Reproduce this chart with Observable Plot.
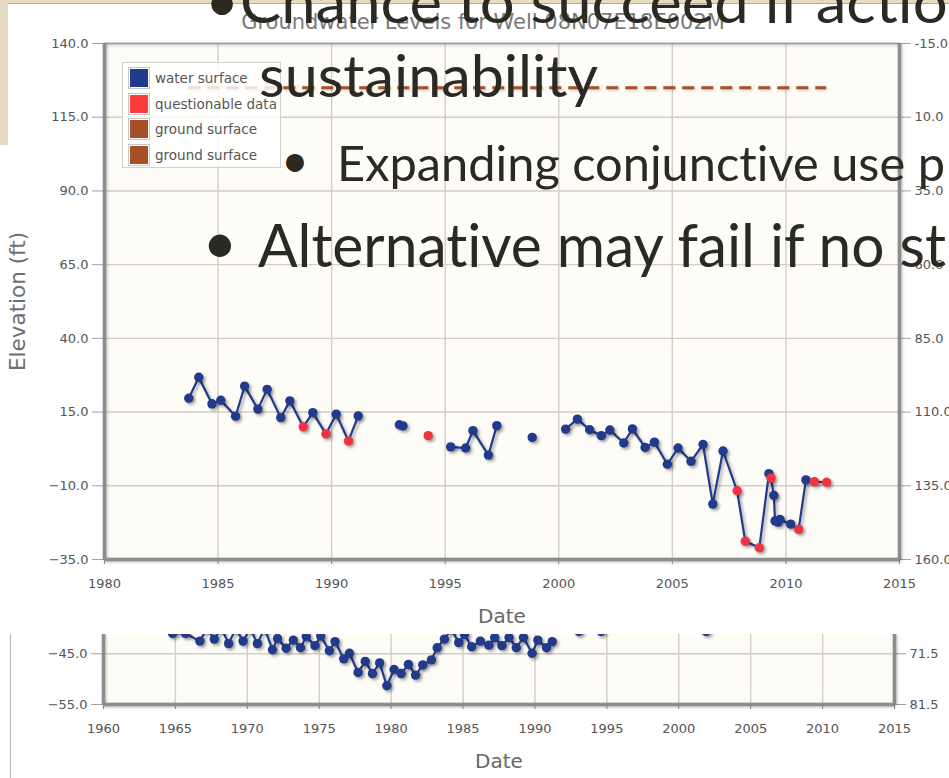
<!DOCTYPE html>
<html>
<head>
<meta charset="utf-8">
<script src="https://cdn.jsdelivr.net/npm/d3@7"></script>
<script src="https://cdn.jsdelivr.net/npm/@observablehq/plot@0.6"></script>
<style>
  html, body { margin: 0; padding: 0; }
  body { width: 949px; height: 778px; position: relative; overflow: hidden; background: #e7dcc2; font-family: "DejaVu Sans", sans-serif; }
  #sheetBottom { position: absolute; left: 0; top: 145px; width: 949px; height: 633px; background: #fff; }
  #sheetEdge { position: absolute; left: 10px; top: 633px; width: 1px; height: 145px; background: #b5b5b5; }
  #bottomChart { position: absolute; left: 0; top: 613px; }
  #sheetTop { position: absolute; left: 8px; top: 3px; width: 941px; height: 630px; background: #fff; border-top: 1px solid #a9a9a9; }
  #topChart { position: absolute; left: 0; top: 0; }
  #legend { position: absolute; left: 122px; top: 62px; width: 157px; height: 104px; border: 1px solid #cfcfcf; background: rgba(255,255,255,0.82); }
  #legend .row { position: absolute; left: 5px; height: 22px; display: flex; align-items: center; }
  #legend .sw { width: 18px; height: 18px; border: 1px solid #c8c8c8; padding: 1px; margin-right: 5px; }
  #legend .sw div { width: 100%; height: 100%; }
  #legend span { font-size: 13.5px; color: #555; white-space: nowrap; }
  #slide { position: absolute; left: 0; top: 0; }
  #slide text { font-variant-ligatures: none; font-feature-settings: "liga" 0, "clig" 0; }
  svg { overflow: visible; }
</style>
</head>
<body>
<div id="sheetBottom"></div>
<div id="sheetEdge"></div>
<div id="bottomChart"></div>
<div id="sheetTop"></div>
<div id="topChart"></div>
<div id="legend"></div>
<div id="slide"></div>
<script>
// ---------------- upper chart: Well 08N07E18E002M ----------------
const wellTitle = "Groundwater Levels for Well 08N07E18E002M";
const yLabel = "Elevation (ft)";
const xLabel = "Date";
const xTicks = [1980, 1985, 1990, 1995, 2000, 2005, 2010, 2015];
const yTicks = [-35, -10, 15, 40, 65, 90, 115, 140];
const groundSurface = 125; // elevation of ground surface (depth axis = groundSurface - elevation)

const dates = [1983.71, 1984.15, 1984.73, 1985.12, 1985.77, 1986.17, 1986.75, 1987.16, 1987.76, 1988.16,
  1988.75, 1989.17, 1989.75, 1990.2, 1990.74, 1991.17,
  1992.98, 1993.14,
  1994.25,
  1995.24, 1995.9, 1996.22, 1996.9, 1997.27,
  1998.83,
  2000.3, 2000.82, 2001.36, 2001.87, 2002.25, 2002.86, 2003.24, 2003.8, 2004.21, 2004.78,
  2005.25, 2005.82, 2006.35, 2006.78, 2007.23, 2007.85, 2008.21, 2008.83, 2009.25, 2009.34,
  2009.47, 2009.52, 2009.66, 2009.74, 2010.21, 2010.56, 2010.88, 2011.25, 2011.79];
const waterElev = [19.7, 26.8, 17.8, 19.0, 13.6, 23.8, 16.0, 22.7, 13.1, 18.8,
  10.0, 14.8, 7.6, 14.3, 5.2, 13.7,
  10.7, 10.3,
  7.0,
  3.2, 2.8, 8.7, 0.4, 10.4,
  6.4,
  9.2, 12.6, 9.0, 7.0, 8.9, 4.5, 9.3, 3.0, 4.8, -2.7,
  2.8, -1.7, 4.0, -16.2, 1.8, -11.7, -28.8, -31.0, -5.9, -7.4,
  -13.3, -21.9, -22.3, -21.4, -23.0, -24.8, -8.0, -8.6, -8.8];
// W = water surface, Q = questionable data
const quality = ["W","W","W","W","W","W","W","W","W","W",
  "Q","W","Q","W","Q","W",
  "W","W",
  "Q",
  "W","W","W","W","W",
  "W",
  "W","W","W","W","W","W","W","W","W","W",
  "W","W","W","W","W","Q","Q","Q","W","Q",
  "W","W","W","W","W","Q","W","Q","Q"];
const segment = [0,0,0,0,0,0,0,0,0,0, 0,0,0,0,0,0, 1,1, 2, 3,3,3,3,3, 4,
  5,5,5,5,5,5,5,5,5,5, 5,5,5,5,5,5,5,5,5,5, 5,5,5,5,5,5,5,5,5];

// ---------------- lower chart (partly hidden) ----------------
const xTicks2 = [1960, 1965, 1970, 1975, 1980, 1985, 1990, 1995, 2000, 2005, 2010, 2015];
const yTicks2 = [-55, -45];
const groundSurface2 = 26.5;
const dates2 = [1964.8, 1965.7, 1966.7, 1967.2, 1967.7, 1968.2, 1968.7, 1969.2, 1969.7, 1970.2, 1970.7, 1971.2, 1971.75,
  1972.1, 1972.7, 1973.2, 1973.7, 1974.1, 1974.7, 1975.1, 1975.7, 1976.1, 1976.7, 1977.1, 1977.7,
  1978.2, 1978.7, 1979.2, 1979.7, 1980.2, 1980.7, 1981.2, 1981.7, 1982.2, 1982.8, 1983.2, 1983.7,
  1984.2, 1984.7, 1985.1, 1985.6, 1986.2, 1986.8, 1987.2, 1987.7, 1988.2, 1988.7, 1989.2, 1989.8,
  1990.2, 1990.8, 1991.2, 1993.05, 1994.6, 2001.9];
const elev2 = [-41.0, -41.0, -42.5, -40.0, -42.1, -40.0, -43.0, -40.0, -42.5, -40.0, -43.0, -40.0, -44.2,
  -42.0, -43.9, -42.3, -43.8, -41.6, -43.4, -41.5, -44.4, -42.6, -46.0, -44.9, -48.7,
  -46.5, -48.9, -46.8, -51.3, -48.1, -48.9, -47.1, -49.2, -47.2, -46.2, -43.8, -42.1,
  -40.2, -42.8, -41.2, -43.6, -42.5, -43.3, -41.8, -43.4, -41.8, -43.8, -41.8, -44.9,
  -42.3, -43.8, -42.6, -40.6, -40.6, -40.6];
const seg2 = dates2.map((d, i) => i < 52 ? 0 : i - 51);

// ---------------- legend & slide text ----------------
const legendLabels = ["water surface", "questionable data", "ground surface", "ground surface"];
const slideLines = ["Chance to succeed if action", "sustainability", "Expanding conjunctive use p", "Alternative may fail if no st"];

// ---------------- styles ----------------
const NAVY = "#213a8c", RED = "#ef3340", SIENNA = "#a64f28", PLOTBG = "#fdfcf6", GRID = "#d2cfc7", AXIS = "#8d8d8d";
const legendColors = [NAVY, "#ff3b3b", SIENNA, SIENNA];

const rows = dates.map((d, i) => ({date: d, elev: waterElev[i], q: quality[i], seg: segment[i]}));
const rows2 = dates2.map((d, i) => ({date: d, elev: elev2[i], seg: seg2[i]}));

const baseStyle = {background: "transparent", fontFamily: "DejaVu Sans, sans-serif", fontSize: "13px", overflow: "visible"};
const TICKFONT = 13;

const topPlot = Plot.plot({
  width: 949, height: 633,
  marginLeft: 104, marginRight: 50, marginTop: 43, marginBottom: 74,
  style: baseStyle,
  x: {domain: [1980, 2015]},
  y: {domain: [-35, 140]},
  marks: [
    Plot.frame({fill: PLOTBG, stroke: null}),
    Plot.gridX({ticks: xTicks, stroke: GRID, strokeOpacity: 1, strokeWidth: 1.4}),
    Plot.gridY({ticks: yTicks, stroke: GRID, strokeOpacity: 1, strokeWidth: 1.4}),
    Plot.axisX({ticks: xTicks, tickFormat: "d", tickSize: 5, tickPadding: 14, stroke: AXIS, fill: "#555", fontSize: TICKFONT, label: null}),
    Plot.axisY({anchor: "left", ticks: yTicks, tickFormat: ".1f", tickSize: 12, tickPadding: 4, stroke: "#a0a0a0", fill: "#555", fontSize: TICKFONT, label: null}),
    Plot.axisY({anchor: "right", ticks: yTicks, tickFormat: d => (groundSurface - d).toFixed(1), tickSize: 11, tickPadding: 4, stroke: "#a0a0a0", fill: "#555", fontSize: TICKFONT, label: null}),
    Plot.ruleY([140], {stroke: "#9a9a9a", strokeWidth: 1.5}),
    Plot.ruleX([1980, 2015], {stroke: AXIS, strokeWidth: 3.5}),
    Plot.ruleY([-35], {stroke: AXIS, strokeWidth: 3.5}),
    Plot.ruleY([groundSurface], {x1: dates[0], x2: dates[dates.length - 1], stroke: SIENNA, strokeWidth: 3, strokeDasharray: "12,7"}),
    Plot.line(rows, {x: "date", y: "elev", z: "seg", stroke: NAVY, strokeWidth: 2.2}),
    Plot.dot(rows, {filter: d => d.q === "W", x: "date", y: "elev", r: 4.7, fill: NAVY, stroke: null}),
    Plot.dot(rows, {filter: d => d.q === "Q", x: "date", y: "elev", r: 4.7, fill: RED, stroke: null}),
    Plot.text([wellTitle], {text: d => d, frameAnchor: "top", textAnchor: "middle", dy: -29, dx: -19, fontSize: 21, fill: "#7a7a7a"}),
    Plot.text([yLabel], {text: d => d, frameAnchor: "left", textAnchor: "middle", dx: -86, rotate: -90, fontSize: 21.5, fill: "#707070"}),
    Plot.text([xLabel], {text: d => d, frameAnchor: "bottom", textAnchor: "middle", dy: 63, fontSize: 20, fill: "#666"})
  ]
});
document.getElementById("topChart").append(topPlot);

const bottomPlot = Plot.plot({
  width: 949, height: 165,
  marginLeft: 103, marginRight: 55, marginTop: 20, marginBottom: 74,
  style: baseStyle,
  x: {domain: [1960, 2015]},
  y: {domain: [-55, -41]},
  marks: [
    Plot.frame({fill: PLOTBG, stroke: null}),
    Plot.gridX({ticks: xTicks2, stroke: GRID, strokeOpacity: 1, strokeWidth: 1.4}),
    Plot.gridY({ticks: yTicks2, stroke: GRID, strokeOpacity: 1, strokeWidth: 1.4}),
    Plot.axisX({ticks: xTicks2, tickFormat: "d", tickSize: 5, tickPadding: 14, stroke: AXIS, fill: "#555", fontSize: TICKFONT, label: null}),
    Plot.axisY({anchor: "left", ticks: yTicks2, tickFormat: ".1f", tickSize: 12, tickPadding: 4, stroke: "#a0a0a0", fill: "#555", fontSize: TICKFONT, label: null}),
    Plot.axisY({anchor: "right", ticks: yTicks2, tickFormat: d => (groundSurface2 - d).toFixed(1), tickSize: 11, tickPadding: 4, stroke: "#a0a0a0", fill: "#555", fontSize: TICKFONT, label: null}),
    Plot.ruleX([1960, 2015], {stroke: AXIS, strokeWidth: 3.5}),
    Plot.ruleY([-55], {stroke: AXIS, strokeWidth: 3.5}),
    Plot.line(rows2, {x: "date", y: "elev", z: "seg", stroke: NAVY, strokeWidth: 2.2}),
    Plot.dot(rows2, {x: "date", y: "elev", r: 4.7, fill: NAVY, stroke: null}),
    Plot.text([xLabel], {text: d => d, frameAnchor: "bottom", textAnchor: "middle", dy: 63, fontSize: 20, fill: "#666"})
  ]
});
document.getElementById("bottomChart").append(bottomPlot);

// drop shadows like the original chart
for (const svg of [topPlot, bottomPlot]) {
  svg.querySelectorAll('g[aria-label="line"], g[aria-label="dot"]').forEach(g => g.style.filter = "drop-shadow(2px 2px 1.5px rgba(0,0,0,0.35))");
  svg.querySelectorAll('g[aria-label="rule"]').forEach(g => g.style.filter = "drop-shadow(1.5px 1.5px 1.5px rgba(0,0,0,0.25))");
}

// legend
const legendBox = d3.select("#legend");
legendLabels.forEach((lab, i) => {
  const row = legendBox.append("div").attr("class", "row").style("top", (4 + i * 25.5) + "px");
  row.append("div").attr("class", "sw").append("div").style("background", legendColors[i]);
  row.append("span").text(lab);
});

// slide text overlay
const slide = d3.select("#slide").append("svg").attr("width", 949).attr("height", 778);
const slideSpecs = [
  {bx: 222, by: 22, x: 240, y: 23, len: 742, size: 58, bullet: true},
  {x: 259, y: 97, len: 339, size: 58, bullet: false},
  {bx: 295, by: 177, x: 337, y: 181, len: 608, size: 48, bullet: true},
  {bx: 220, by: 264, x: 258, y: 267, len: 688, size: 60, bullet: true}
];
slideLines.forEach((t, i) => {
  const s = slideSpecs[i];
  if (s.bullet) slide.append("text").attr("x", s.bx).attr("y", s.by).attr("text-anchor", "middle")
    .attr("font-family", "Lato, 'Open Sans', sans-serif").attr("font-size", s.size).attr("fill", "#2a2a22").text("•");
  slide.append("text").attr("x", s.x).attr("y", s.y).attr("textLength", s.len).attr("lengthAdjust", "spacingAndGlyphs")
    .attr("font-family", "Lato, 'Open Sans', sans-serif").attr("font-size", s.size).attr("fill", "#2a2a22").text(t);
});
</script>
</body>
</html>
